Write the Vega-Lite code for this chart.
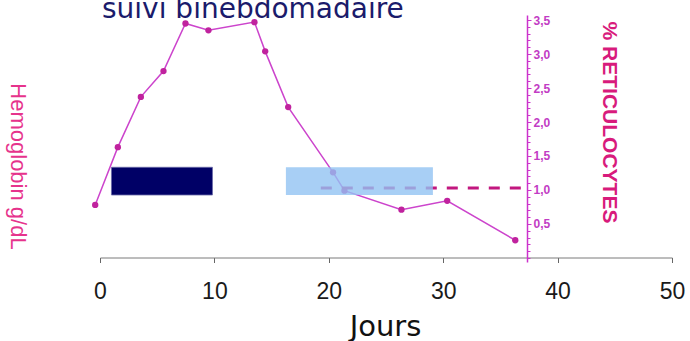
{
  "$schema": "https://vega.github.io/schema/vega-lite/v6.json",
  "width": 572,
  "height": 247,
  "autosize": {"type": "none"},
  "padding": {"left": 100, "top": 15, "right": 18, "bottom": 79},
  "background": "white",
  "title": {"text": "suivi binebdomadaire", "anchor": "start", "frame": "group", "font": "DejaVu Sans", "fontSize": 28, "fontWeight": "normal", "color": "#1b1b6b", "baseline": "alphabetic", "offset": 0, "dx": 2, "dy": 32},
  "config": {"view": {"stroke": null}, "axis": {"grid": false}},
  "datasets": {
    "retic": [
      {"jour": -0.42, "pct": 0.78},
      {"jour": 1.56, "pct": 1.63},
      {"jour": 3.57, "pct": 2.37},
      {"jour": 5.55, "pct": 2.75},
      {"jour": 7.47, "pct": 3.45},
      {"jour": 9.48, "pct": 3.35},
      {"jour": 13.5, "pct": 3.47},
      {"jour": 14.44, "pct": 3.04},
      {"jour": 16.45, "pct": 2.22},
      {"jour": 20.37, "pct": 1.26},
      {"jour": 21.37, "pct": 0.99},
      {"jour": 26.35, "pct": 0.71},
      {"jour": 30.35, "pct": 0.84},
      {"jour": 36.3, "pct": 0.26}
    ],
    "periodes": [
      {"periode": "traitement 1", "jour": 1.0, "fin": 9.83, "bas": 0.926, "haut": 1.334},
      {"periode": "traitement 2", "jour": 16.25, "fin": 29.1, "bas": 0.926, "haut": 1.334}
    ],
    "seuil": [
      {"jour": 19.3, "fin": 37.3, "val": 1.03}
    ]
  },
  "encoding": {
    "x": {"field": "jour", "type": "quantitative", "scale": {"domain": [0, 50], "nice": false, "zero": false},
      "axis": {"title": "Jours", "values": [0, 10, 20, 30, 40, 50], "offset": -4.5, "domainColor": "#7a7a7a", "domainWidth": 1, "tickColor": "#666666", "tickSize": 5, "labelFont": "Liberation Sans", "labelFontSize": 23, "labelColor": "#1a1a1a", "labelPadding": 18, "labelFlush": false, "labelOverlap": false, "titleFont": "DejaVu Sans", "titleFontSize": 29, "titleFontWeight": "normal", "titleColor": "#111111", "titleBaseline": "alphabetic", "titleY": 77.5, "titleX": 285}}
  },
  "layer": [
    {
      "data": {"name": "periodes"},
      "transform": [{"filter": "datum.periode === 'traitement 1'"}],
      "mark": {"type": "rect", "fill": "#000066", "stroke": "#6a6aa8", "strokeWidth": 0.8},
      "encoding": {
        "x2": {"field": "fin"},
        "y": {"field": "bas", "type": "quantitative", "scale": {"domain": [-0.06, 3.575], "nice": false, "zero": false},
          "axis": {"orient": "left", "title": "Hemoglobin g/dL", "domain": false, "ticks": false, "labels": false, "grid": false, "titleAngle": 90, "titleX": -83, "titleY": 151, "titleAlign": "center", "titleBaseline": "middle", "titleFont": "Liberation Sans", "titleFontSize": 22, "titleFontWeight": "normal", "titleColor": "#e6338c"}},
        "y2": {"field": "haut"}
      }
    },
    {
      "data": {"name": "retic"},
      "mark": {"type": "line", "color": "#cc44cc", "strokeWidth": 1.5},
      "encoding": {
        "y": {"field": "pct", "type": "quantitative", "scale": {"domain": [-0.06, 3.575], "nice": false, "zero": false},
          "axis": {"orient": "right", "offset": -145, "values": [0.5, 1, 1.5, 2, 2.5, 3, 3.5], "labelExpr": "replace(format(datum.value, '.1f'), '.', ',')", "labelFont": "Liberation Sans", "labelFontSize": 12, "labelFontWeight": "bold", "labelColor": "#c23cc4", "labelPadding": 2, "labelFlush": false, "labelOverlap": false, "tickSize": 4, "tickColor": "#cc33cc", "tickWidth": 1, "domainColor": "#cc33cc", "domainWidth": 1.5, "grid": false, "title": "% RETICULOCYTES", "titleAngle": 90, "titleX": 81, "titleY": 107, "titleAlign": "center", "titleBaseline": "middle", "titleFont": "Liberation Sans", "titleFontSize": 21, "titleFontWeight": "bold", "titleColor": "#d81b7c"}}
      }
    },
    {
      "data": {"name": "retic"},
      "mark": {"type": "point", "filled": true, "color": "#c0229e", "size": 40, "opacity": 1},
      "encoding": {
        "y": {"field": "pct", "type": "quantitative", "scale": {"domain": [-0.06, 3.575], "nice": false, "zero": false}, "axis": null}
      }
    },
    {
      "data": {"name": "seuil"},
      "mark": {"type": "rule", "color": "#c2177f", "strokeWidth": 3, "strokeDash": [11, 10]},
      "encoding": {
        "x2": {"field": "fin"},
        "y": {"field": "val", "type": "quantitative", "scale": {"domain": [-0.06, 3.575], "nice": false, "zero": false},
          "axis": {"orient": "right", "offset": -145, "values": [0, 0.1, 0.2, 0.3, 0.4, 0.5, 0.6, 0.7, 0.8, 0.9, 1, 1.1, 1.2, 1.3, 1.4, 1.5, 1.6, 1.7, 1.8, 1.9, 2, 2.1, 2.2, 2.3, 2.4, 2.5, 2.6, 2.7, 2.8, 2.9, 3, 3.1, 3.2, 3.3, 3.4, 3.5], "labels": false, "domain": false, "tickSize": 3, "tickColor": "#cc33cc", "tickWidth": 1, "title": null, "grid": false}}
      }
    },
    {
      "data": {"name": "periodes"},
      "transform": [{"filter": "datum.periode === 'traitement 2'"}],
      "mark": {"type": "rect", "fill": "#92c3f2", "opacity": 0.8},
      "encoding": {
        "x2": {"field": "fin"},
        "y": {"field": "bas", "type": "quantitative", "scale": {"domain": [-0.06, 3.575], "nice": false, "zero": false}, "axis": null},
        "y2": {"field": "haut"}
      }
    }
  ],
  "resolve": {"scale": {"y": "independent"}, "axis": {"y": "independent"}}
}
